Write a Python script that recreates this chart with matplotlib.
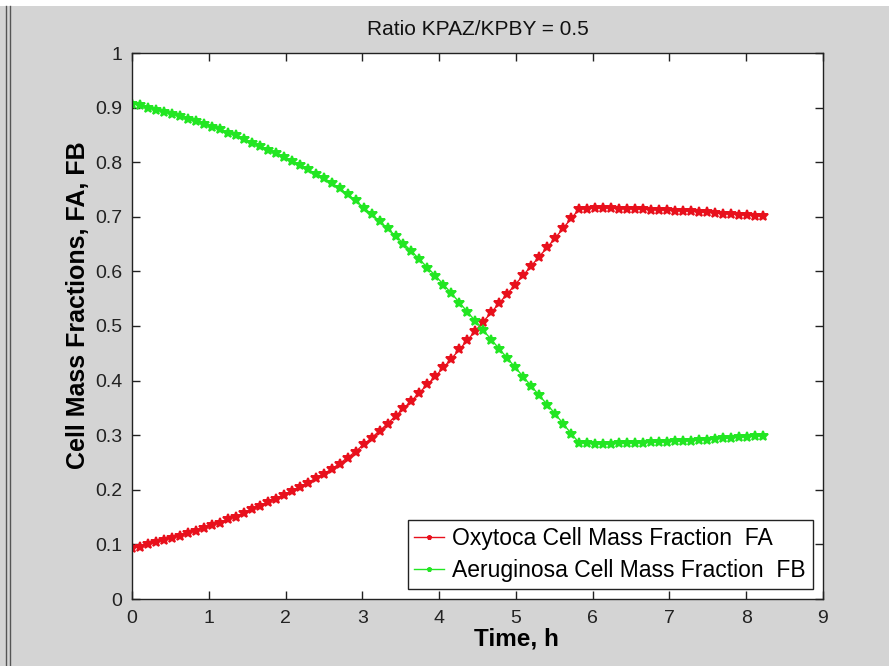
import matplotlib
matplotlib.use('Agg')
import matplotlib.pyplot as plt
from matplotlib.lines import Line2D
from matplotlib.patches import Rectangle

plt.rcParams['font.family'] = ['Liberation Sans', 'DejaVu Sans']

# time, h
t = [0.000, 0.104, 0.208, 0.312, 0.416, 0.520, 0.624, 0.728, 0.832, 0.936,
     1.040, 1.144, 1.248, 1.352, 1.456, 1.560, 1.664, 1.768, 1.872, 1.976,
     2.080, 2.184, 2.288, 2.392, 2.496, 2.600, 2.704, 2.808, 2.912, 3.016,
     3.120, 3.224, 3.328, 3.432, 3.536, 3.640, 3.744, 3.848, 3.952, 4.056,
     4.160, 4.264, 4.368, 4.472, 4.576, 4.680, 4.784, 4.888, 4.992, 5.096,
     5.200, 5.304, 5.408, 5.512, 5.616, 5.720, 5.824, 5.928, 6.032, 6.136,
     6.240, 6.344, 6.448, 6.552, 6.656, 6.760, 6.864, 6.968, 7.072, 7.176,
     7.280, 7.384, 7.488, 7.592, 7.696, 7.800, 7.904, 8.008, 8.112, 8.216]

# Oxytoca cell mass fraction
fa = [0.093, 0.096, 0.100, 0.104, 0.108, 0.112, 0.116, 0.121, 0.125, 0.130,
      0.135, 0.140, 0.146, 0.151, 0.157, 0.164, 0.170, 0.177, 0.184, 0.191,
      0.198, 0.205, 0.213, 0.221, 0.229, 0.238, 0.248, 0.259, 0.270, 0.283,
      0.295, 0.308, 0.321, 0.335, 0.349, 0.363, 0.378, 0.393, 0.408, 0.424,
      0.440, 0.457, 0.474, 0.491, 0.508, 0.525, 0.542, 0.559, 0.576, 0.593,
      0.610, 0.627, 0.644, 0.661, 0.679, 0.697, 0.714, 0.715, 0.716, 0.716,
      0.716, 0.715, 0.715, 0.714, 0.714, 0.713, 0.713, 0.712, 0.711, 0.711,
      0.710, 0.709, 0.708, 0.707, 0.706, 0.705, 0.704, 0.703, 0.702, 0.701]

# Aeruginosa cell mass fraction
fb = [0.907, 0.904, 0.900, 0.896, 0.892, 0.888, 0.884, 0.879, 0.875, 0.870,
      0.865, 0.860, 0.854, 0.849, 0.843, 0.836, 0.830, 0.823, 0.816, 0.809,
      0.802, 0.795, 0.787, 0.779, 0.771, 0.762, 0.752, 0.741, 0.730, 0.717,
      0.705, 0.692, 0.679, 0.665, 0.651, 0.637, 0.622, 0.607, 0.592, 0.576,
      0.560, 0.543, 0.526, 0.509, 0.492, 0.475, 0.458, 0.441, 0.424, 0.407,
      0.390, 0.373, 0.356, 0.339, 0.321, 0.303, 0.286, 0.285, 0.284, 0.284,
      0.284, 0.285, 0.285, 0.286, 0.286, 0.287, 0.287, 0.288, 0.289, 0.289,
      0.290, 0.291, 0.292, 0.293, 0.294, 0.295, 0.296, 0.297, 0.298, 0.299]

xticks = [0, 1, 2, 3, 4, 5, 6, 7, 8, 9]
yticks = [0, 0.1, 0.2, 0.3, 0.4, 0.5, 0.6, 0.7, 0.8, 0.9, 1]
ytick_labels = ['0', '0.1', '0.2', '0.3', '0.4', '0.5', '0.6', '0.7', '0.8', '0.9', '1']

fig = plt.figure(figsize=(8.89, 6.66), dpi=100, facecolor='#d4d4d4')

# window frame bits (white strip on top, borders on the left)
fig.add_artist(Rectangle((0, 1 - 6 / 666), 1, 6 / 666, transform=fig.transFigure,
                         facecolor='white', edgecolor='none'))
fig.add_artist(Line2D([5.5 / 889, 5.5 / 889], [0, 1 - 6 / 666], transform=fig.transFigure,
                      color='#555555', lw=1))
fig.add_artist(Line2D([9.5 / 889, 9.5 / 889], [0, 1 - 6 / 666], transform=fig.transFigure,
                      color='#555555', lw=1))

ax = fig.add_axes([132 / 889, 1 - 599 / 666, 691 / 889, 546 / 666])
ax.set_facecolor('white')

ax.plot(t, fa, '-*', color='#e8101c', lw=1, ms=7, mew=1.4,
        label='Oxytoca Cell Mass Fraction  FA')
ax.plot(t, fb, '-*', color='#22e622', lw=1, ms=7, mew=1.4,
        label='Aeruginosa Cell Mass Fraction  FB')

ax.set_xlim(0, 9)
ax.set_ylim(0, 1)
ax.set_xticks(xticks)
ax.set_yticks(yticks)
ax.set_yticklabels(ytick_labels)
ax.tick_params(direction='in', length=6, width=1, top=True, right=True,
               labelsize=14, colors='#222222')
ax.tick_params(axis='x', pad=8)
ax.tick_params(axis='y', pad=7)
for s in ax.spines.values():
    s.set_color('#222222')
    s.set_linewidth(1)

ax.set_title('Ratio KPAZ/KPBY = 0.5', fontsize=15, color='#111111', pad=13)
ax.set_xlabel('Time, h', fontsize=17.5, fontweight='bold')
ax.set_ylabel('Cell Mass Fractions, FA, FB', fontsize=18, fontweight='bold')
ax.xaxis.set_label_coords(0.556, -0.053)
ax.yaxis.set_label_coords(-0.061, 0.538)

leg = ax.legend(loc='lower right', fontsize=16.5, frameon=True, fancybox=False,
                edgecolor='#222222', framealpha=1, borderpad=0.3, handlelength=1.3,
                handletextpad=0.35, labelspacing=0.38, markerscale=0.45,
                borderaxespad=0.45)
leg.get_frame().set_linewidth(1)

fig.savefig('out.png', dpi=100, facecolor=fig.get_facecolor())
